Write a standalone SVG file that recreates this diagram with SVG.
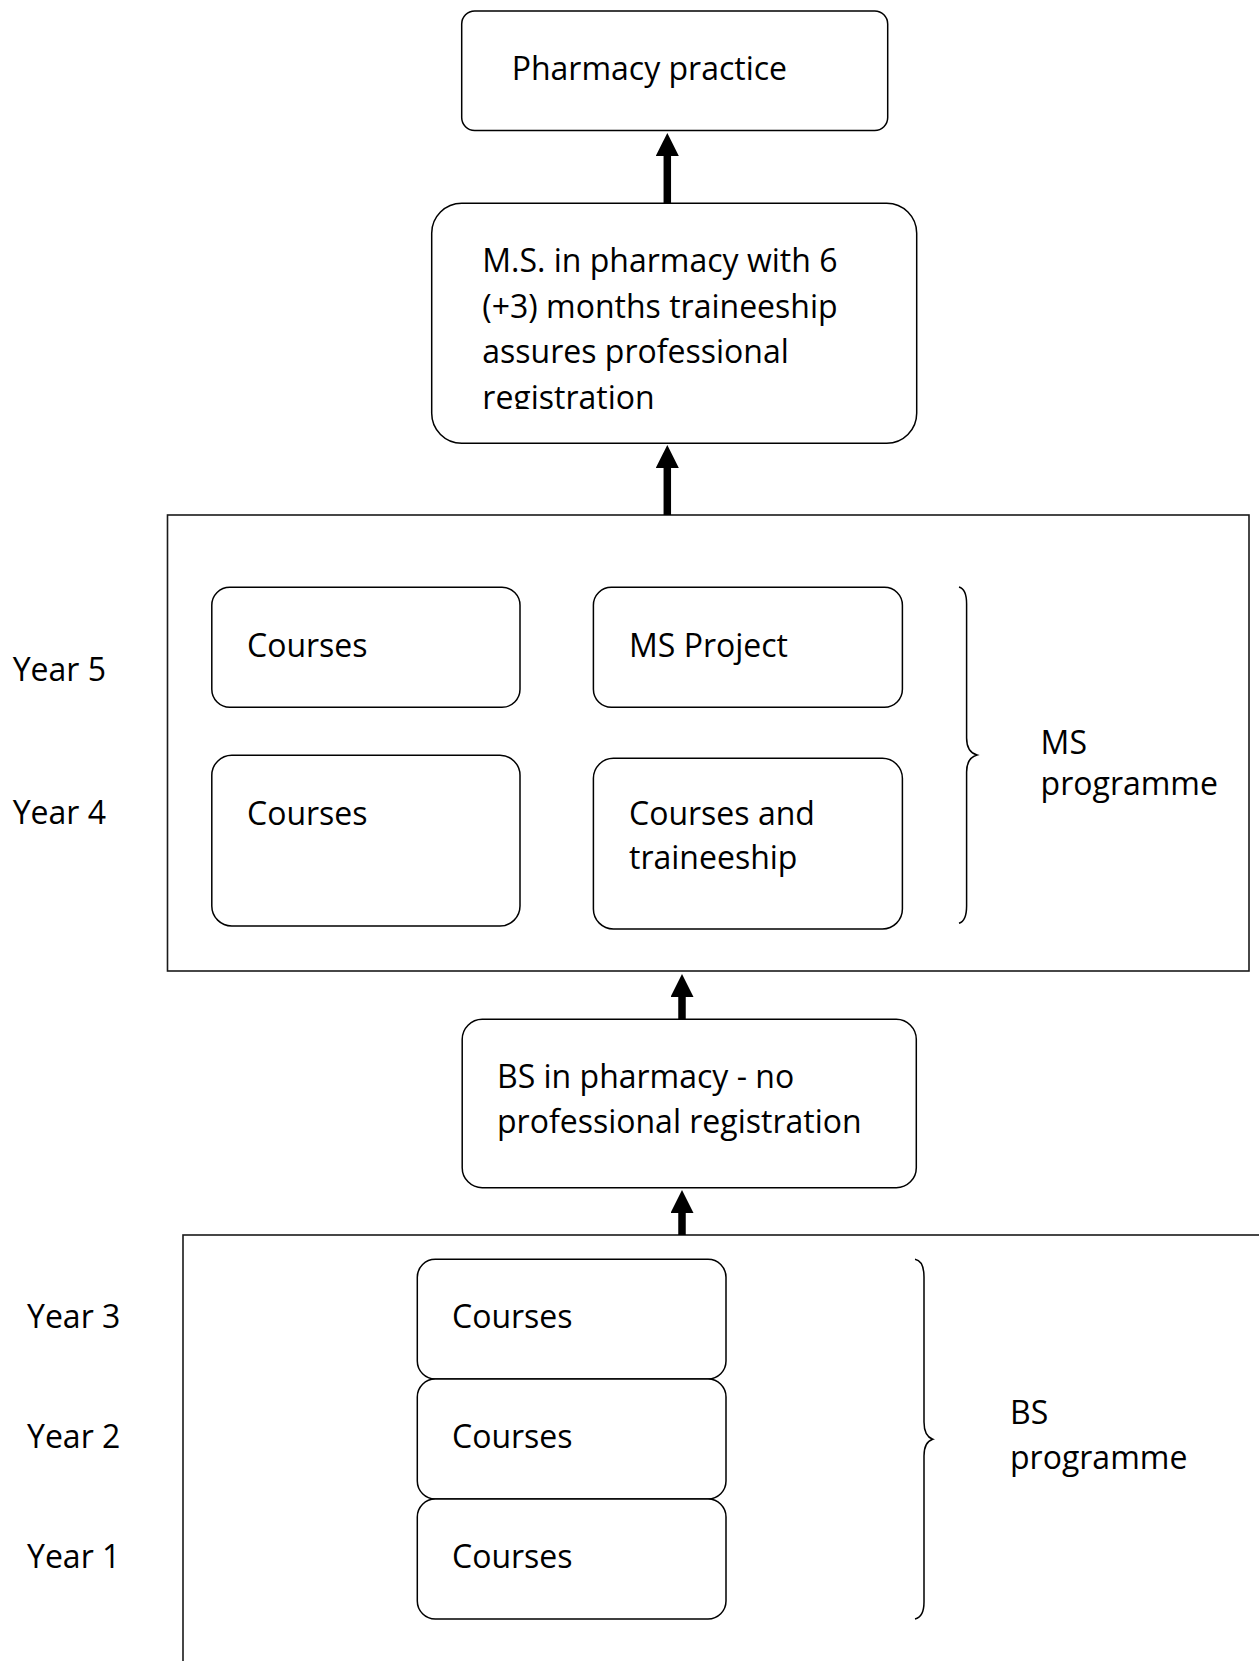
<svg xmlns="http://www.w3.org/2000/svg" width="1259" height="1661" viewBox="0 0 1259 1661">
<style>
  .box { fill: #ffffff; stroke: #000000; stroke-width: 1.5; }
  .frame { fill: none; stroke: #1a1a1a; stroke-width: 1.6; }
  .brace { fill: none; stroke: #000000; stroke-width: 1.5; }
  .t { font-family: "Open Sans", "Noto Sans", "Liberation Sans", sans-serif; font-size: 32px; fill: #000000; }
  .shaft { stroke: #000000; stroke-width: 7.5; fill: none; marker-end: url(#head); }
</style>
<defs>
  <marker id="head" markerUnits="userSpaceOnUse" markerWidth="24" markerHeight="24" refX="1" refY="11.5" orient="auto">
    <path d="M0,0 L23,11.5 L0,23 Z" fill="#000000"/>
  </marker>
  <clipPath id="msclip">
    <rect x="431" y="203" width="486" height="206"/>
  </clipPath>
</defs>
<rect width="1259" height="1661" fill="#ffffff"/>

<g id="ms-programme-frame">
  <rect class="frame" x="167.5" y="515" width="1081.5" height="456"/>
</g>
<g id="bs-programme-frame">
  <rect class="frame" x="183" y="1235" width="1120" height="480"/>
</g>

<g id="connectors">
  <line class="shaft" x1="667.3" y1="203" x2="667.3" y2="155"/>
  <line class="shaft" x1="667.3" y1="515" x2="667.3" y2="467"/>
  <line class="shaft" x1="682" y1="1019" x2="682" y2="996"/>
  <line class="shaft" x1="682" y1="1235" x2="682" y2="1212"/>
</g>

<g id="pharmacy-practice">
  <rect class="box" x="461.7" y="11" width="426" height="119.5" rx="13" ry="13"/>
  <text class="t" x="511.7" y="80">Pharmacy practice</text>
</g>

<g id="ms-degree">
  <rect class="box" x="431.7" y="203.3" width="485" height="240" rx="30" ry="30"/>
  <g clip-path="url(#msclip)">
    <text class="t" x="482.3" y="271.7">M.S. in pharmacy with 6</text>
    <text class="t" x="482.3" y="317.5">(+3) months traineeship</text>
    <text class="t" x="482.3" y="363.3">assures professional</text>
    <text class="t" x="482.3" y="409">registration</text>
  </g>
</g>

<g id="ms-year5-courses">
  <rect class="box" x="211.8" y="587.3" width="308.2" height="120" rx="18" ry="18"/>
  <text class="t" x="247" y="656.7">Courses</text>
</g>
<g id="ms-project">
  <rect class="box" x="593.4" y="587.3" width="309" height="120" rx="18" ry="18"/>
  <text class="t" x="629" y="656.7">MS Project</text>
</g>
<g id="ms-year4-courses">
  <rect class="box" x="211.8" y="755.3" width="308.2" height="170.7" rx="20" ry="20"/>
  <text class="t" x="247" y="825">Courses</text>
</g>
<g id="ms-courses-traineeship">
  <rect class="box" x="593.4" y="758.3" width="309" height="170.7" rx="20" ry="20"/>
  <text class="t" x="629" y="825">Courses and</text>
  <text class="t" x="629" y="869">traineeship</text>
</g>

<g id="ms-brace">
  <path class="brace" d="M959,587 Q966.6,589 966.6,604 L966.6,738 Q966.6,752 977,755 Q966.6,758 966.6,772 L966.6,906 Q966.6,921 959,923.3"/>
  <text class="t" x="1040.6" y="753.5">MS</text>
  <text class="t" x="1040.6" y="795">programme</text>
</g>

<g id="year-labels-ms">
  <text class="t" x="12.7" y="681">Year 5</text>
  <text class="t" x="12.7" y="824">Year 4</text>
</g>

<g id="bs-degree">
  <rect class="box" x="462.2" y="1019.3" width="454.1" height="168.4" rx="20" ry="20"/>
  <text class="t" x="497" y="1088.3">BS in pharmacy - no</text>
  <text class="t" x="497" y="1133.3">professional registration</text>
</g>

<g id="bs-year3-courses">
  <rect class="box" x="417.3" y="1259.3" width="308.7" height="119.7" rx="18" ry="18"/>
  <text class="t" x="452" y="1328.3">Courses</text>
</g>
<g id="bs-year2-courses">
  <rect class="box" x="417.3" y="1379" width="308.7" height="120" rx="18" ry="18"/>
  <text class="t" x="452" y="1448.3">Courses</text>
</g>
<g id="bs-year1-courses">
  <rect class="box" x="417.3" y="1499" width="308.7" height="120" rx="18" ry="18"/>
  <text class="t" x="452" y="1568.3">Courses</text>
</g>

<g id="bs-brace">
  <path class="brace" d="M915,1259.3 Q924,1261 924,1277 L924,1422 Q924,1436 932.7,1439.3 Q924,1442 924,1456 L924,1602 Q924,1617 915,1619"/>
  <text class="t" x="1010" y="1424">BS</text>
  <text class="t" x="1010" y="1469">programme</text>
</g>

<g id="year-labels-bs">
  <text class="t" x="27" y="1328.3">Year 3</text>
  <text class="t" x="27" y="1448.3">Year 2</text>
  <text class="t" x="27" y="1568.3">Year 1</text>
</g>
</svg>
